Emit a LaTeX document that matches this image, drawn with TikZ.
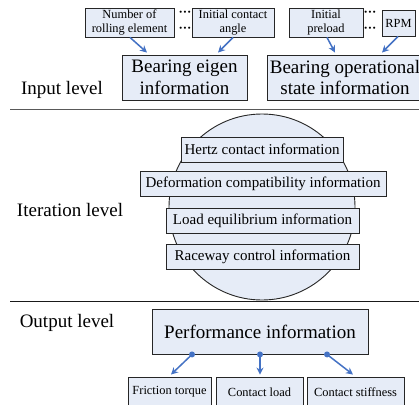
\documentclass[tikz,border=0pt]{standalone}
\usepackage{fontspec}
\setmainfont{Liberation Serif}
\usetikzlibrary{arrows.meta,calc}
\definecolor{boxfill}{HTML}{E6ECF7}
\definecolor{boxline}{HTML}{262626}
\definecolor{arrblue}{HTML}{4472C4}
\tikzset{
  sbox/.style={draw=boxline,fill=boxfill,line width=0.9pt,inner sep=0pt,align=center,font=\fontsize{12.4}{14}\selectfont},
  mbox/.style={draw=boxline,fill=boxfill,line width=0.9pt,inner sep=0pt,align=center,minimum height=25pt,font=\fontsize{15}{17}\selectfont},
  bbox/.style={draw=boxline,fill=boxfill,line width=0.9pt,inner sep=0pt,align=center,minimum height=45pt,font=\fontsize{19}{21.5}\selectfont},
  lvl/.style={inner sep=0pt,font=\fontsize{19}{21}\selectfont},
  arr/.style={draw=arrblue,line width=1.5pt,-{Stealth[length=7pt,width=7pt]}},
  dotc/.style={inner sep=0pt,font=\fontsize{13}{13}\bfseries},
  sep/.style={line width=1pt}
}
\begin{document}
\begin{tikzpicture}[x=1pt,y=-1pt]
\useasboundingbox (0,0) rectangle (419,404);
% separators
\draw[sep,draw=black!65] (10,109) -- (430,109);
\draw[sep,draw=black!90] (10,301) -- (430,301);
% input level
\node[sbox,minimum width=89pt,minimum height=29pt] (n1) at (129.5,22.5) {Number of\\rolling element};
\node[sbox,minimum width=82pt,minimum height=29pt] (n2) at (233,22.5) {Initial contact\\angle};
\node[sbox,minimum width=74pt,minimum height=29pt] (n3) at (326,22.5) {Initial\\preload};
\node[sbox,minimum width=33pt,minimum height=26pt] (n4) at (398.5,23) {RPM};
\node[dotc] (d1) at (185,14) {···};
\node[dotc] (d2) at (185,30) {···};
\node[dotc] (d3) at (370,14) {···};
\node[dotc] (d4) at (370,30) {···};
\node[bbox,minimum width=125pt] (b1) at (184.5,77.5) {Bearing eigen\\information};
\node[bbox,minimum width=156pt] (b2) at (345,77.5) {Bearing operational\\state information};
\node[lvl] (l1) at (62,90) {Input level};
\draw[arr] ([xshift=0.5pt]n1.south) -- ([xshift=-37.5pt,yshift=2pt]b1.north);
\draw[arr] (n2.south) -- ([xshift=33.5pt,yshift=2pt]b1.north);
\draw[arr] ([xshift=1pt]n3.south) -- ([xshift=-10pt,yshift=2pt]b2.north);
\draw[arr] ([xshift=-0.5pt]n4.south) -- ([xshift=37pt,yshift=2pt]b2.north);
% iteration level
\node[draw=boxline,fill=boxfill,line width=0.9pt,circle,minimum size=186pt,inner sep=0pt] (c) at (262,207) {};
\node[mbox,minimum width=162pt] (i1) at (262,149.5) {Hertz contact information};
\node[mbox,minimum width=246pt] (i2) at (263,183.5) {Deformation compatibility information};
\node[mbox,minimum width=193pt] (i3) at (262.5,220.5) {Load equilibrium information};
\node[mbox,minimum width=193pt] (i4) at (262.5,256.5) {Raceway control information};
\node[lvl] (l2) at (70,210) {Iteration level};
% output level
\node[lvl] (l3) at (67,323) {Output level};
\node[bbox,minimum width=216pt] (p) at (260,331.5) {Performance information};
\node[sbox,minimum width=83pt,minimum height=30pt] (f1) at (169.5,392) {Friction torque};
\node[sbox,minimum width=87pt,minimum height=30pt] (f2) at (259.5,392) {Contact load};
\node[sbox,minimum width=97pt,minimum height=30pt] (f3) at (355.5,392) {Contact stiffness};
\coordinate (s1) at ([xshift=-68pt]p.south);
\coordinate (s2) at (p.south);
\coordinate (s3) at ([xshift=67pt]p.south);
\draw[arr] (s1) -- ([xshift=1.5pt,yshift=2pt]f1.north);
\draw[arr] (s2) -- ([xshift=0.5pt,yshift=2pt]f2.north);
\draw[arr] (s3) -- ([xshift=-2.5pt,yshift=2pt]f3.north);
\fill[arrblue] (s1) circle (3);
\fill[arrblue] (s2) circle (3);
\fill[arrblue] (s3) circle (3);
\end{tikzpicture}
\end{document}
